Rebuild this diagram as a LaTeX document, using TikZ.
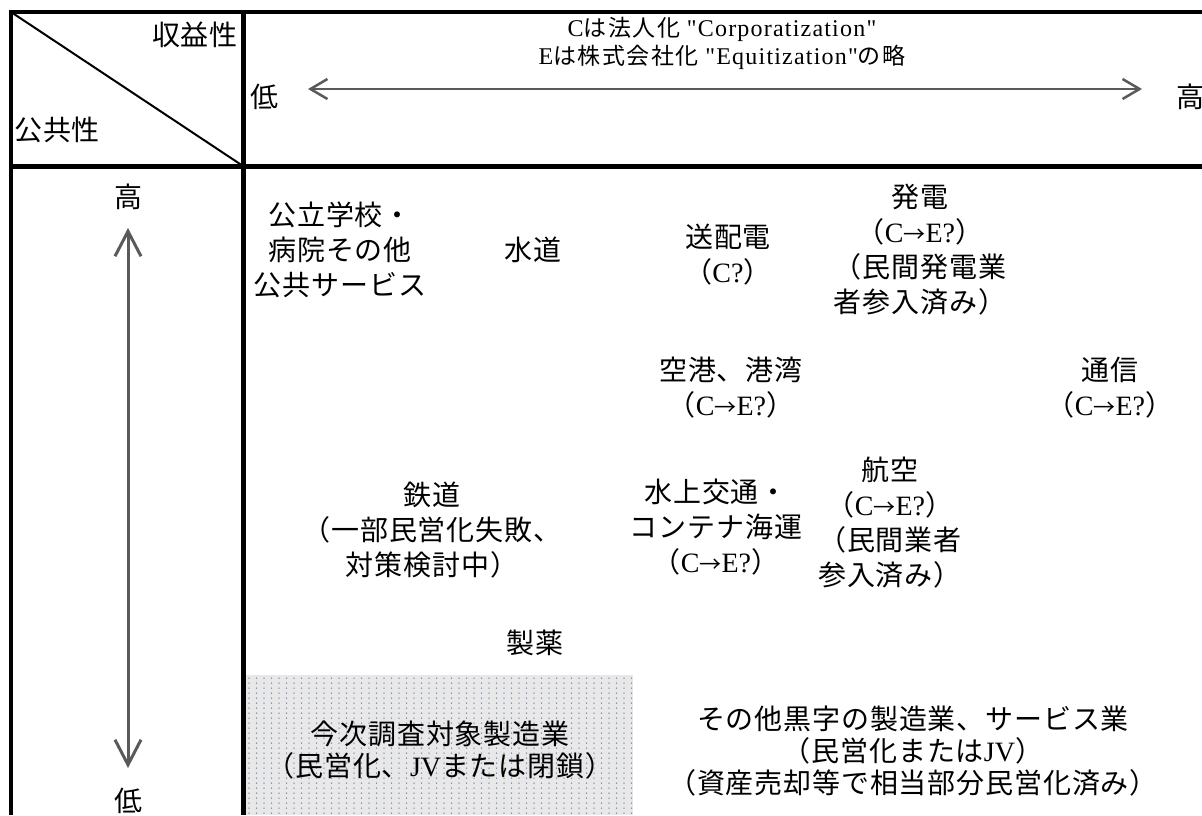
\documentclass[tikz,border=0pt]{standalone}
\usepackage{fontspec}
\newfontfamily\cjk{Noto Sans CJK JP}[LetterSpace=3]
\newfontfamily\cjkplain{Noto Sans CJK JP}
\newfontfamily\cjkh{Noto Sans CJK JP}[LetterSpace=6.5]
\newfontfamily\latf{Liberation Serif}
\newfontfamily\latfh{Liberation Serif}[LetterSpace=5]
\usetikzlibrary{arrows.meta}
\definecolor{axisgray}{HTML}{5A5A5A}
\definecolor{boxgray}{HTML}{E8E8E8}
\definecolor{dotblue}{HTML}{7282B0}
\newcommand{\lat}[1]{{\latf #1}}
\newcommand{\hlat}[1]{{\latfh\fontsize{24}{28}\selectfont #1}}
\newcommand{\arr}{{\cjkplain\fontsize{22}{35}\selectfont →}}
\tikzset{
  body/.style={font=\cjk\fontsize{28}{35}\selectfont, align=center, inner sep=0pt},
  tight/.style={font=\cjk\fontsize{28}{32}\selectfont, align=center, inner sep=0pt},
  head/.style={font=\cjkh\fontsize{23}{28}\selectfont, align=center, inner sep=0pt},
  frame/.style={line width=3.5pt, black},
  divider/.style={line width=5pt, black},
  haxis/.style={draw=axisgray, line width=2.5pt, >={Straight Barb[length=17pt,width=20pt]}, <->},
  vaxis/.style={draw=axisgray, line width=3pt, >={Straight Barb[length=25pt,width=26pt]}, <->}
}
\begin{document}
\begin{tikzpicture}[x=1pt,y=-1pt]
\useasboundingbox (0,0) rectangle (1202,815);
\fill[white] (0,0) rectangle (1202,815);
% shaded box
\fill[boxgray] (246,675) rectangle (633,815);
\foreach \i in {0,...,51}{\foreach \j in {0,...,27}{\fill[dotblue] (249+7.5*\i,678+5*\j) circle (0.75);}}
% table lines
\draw[frame] (9,12) -- (1202,12);
\draw[frame] (11,10) -- (11,815);
\draw[divider] (243.5,10) -- (243.5,815);
\draw[divider] (9,166) -- (1202,166);
\draw[line width=2pt] (11,12) -- (243,166);
% header labels
\node[body, anchor=east] (profit) at (238,35) {収益性};
\node[body, anchor=west] (public) at (14,130) {公共性};
\node[head] (note) at (722,43) {\hlat{C}は法人化 \hlat{"Corporatization"}\\\hlat{E}は株式会社化 \hlat{"Equitization"}の略};
\node[body] (lowh) at (264,97) {低};
\node[body, anchor=west] (highh) at (1176,97) {高};
\coordinate (hl) at (308,89);
\coordinate (hr) at (1142,89);
\draw[haxis] (hl) -- (hr);
% vertical axis
\node[body] (highv) at (128,197) {高};
\node[body] (lowv) at (128,801) {低};
\coordinate (vt) at (128,228);
\coordinate (vb) at (128,768);
\draw[vaxis] (vt) -- (vb);
% body items
\node[body] (school) at (340,250) {公立学校・\\病院その他\\公共サービス};
\node[body] (water) at (533,250) {水道};
\node[body] (trans) at (728,255) {送配電\\（\lat{C?}）};
\node[body] (gen) at (920,250) {発電\\（\lat{C}\arr\lat{E?}）\\（民間発電業\\者参入済み）};
\node[body] (airport) at (731,388) {空港、港湾\\（\lat{C}\arr\lat{E?}）};
\node[body] (telecom) at (1110,388) {通信\\（\lat{C}\arr\lat{E?}）};
\node[body] (rail) at (432,530) {鉄道\\（一部民営化失敗、\\対策検討中）};
\node[body] (ship) at (716,527) {水上交通・\\コンテナ海運\\（\lat{C}\arr\lat{E?}）};
\node[body] (aviation) at (890,523) {航空\\（\lat{C}\arr\lat{E?}）\\（民間業者\\参入済み）};
\node[body] (pharma) at (535,643) {製薬};
\node[tight] (target) at (440,750) {今次調査対象製造業\\（民営化、\lat{JV}または閉鎖）};
\node[tight] (other) at (913,751) {その他黒字の製造業、サービス業\\（民営化または\lat{JV}）\\（資産売却等で相当部分民営化済み）};
\end{tikzpicture}
\end{document}
